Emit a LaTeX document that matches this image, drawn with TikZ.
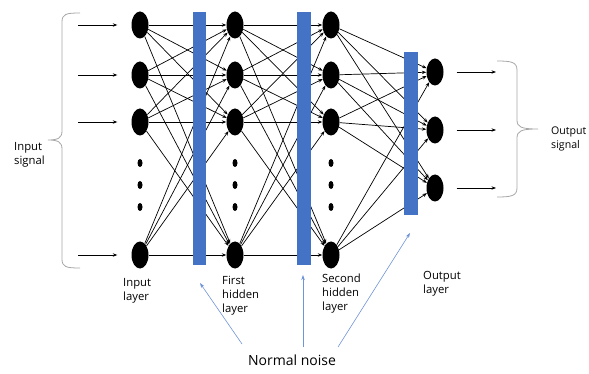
\documentclass[tikz,border=0pt]{standalone}
\usepackage{fontspec}
\setmainfont{Open Sans}
\usetikzlibrary{shapes.geometric,arrows.meta}
\definecolor{barblue}{RGB}{68,114,196}
\definecolor{noiseblue}{RGB}{112,148,217}
\definecolor{bracegray}{RGB}{166,166,166}
\begin{document}
\begin{tikzpicture}[x=1pt,y=-1pt,
 neuron/.style={ellipse,fill=black,minimum width=17pt,minimum height=27pt,inner sep=0pt},
 dotnode/.style={ellipse,fill=black,minimum width=5pt,minimum height=8pt,inner sep=0pt},
 conn/.style={draw=black,line width=0.7pt,-{Stealth[length=4.5pt,width=3.4pt]}},
 bar/.style={fill=barblue,inner sep=0pt},
 lbl/.style={anchor=north west,align=left,inner sep=0pt,font=\fontsize{11.3}{14}\selectfont},
 noisearrow/.style={draw=noiseblue,line width=0.6pt,-{Stealth[length=5pt,width=3.5pt]}},
 bracepath/.style={draw=bracegray,line width=0.8pt}]

\useasboundingbox (0,0) rectangle (589,374);

% neurons
\foreach \n/\y in {1/25,2/75,3/122,4/255} {
  \node[neuron] (i\n) at (140,\y) {};
  \node[neuron] (a\n) at (235,\y) {};
  \node[neuron] (b\n) at (331,\y) {};
}
\foreach \n/\y in {1/72,2/130,3/188} \node[neuron] (o\n) at (435,\y) {};

% vertical dots
\foreach \x/\l in {140/i,235/a,331/b}
  \foreach \k/\y in {1/163,2/185,3/207}
    \node[dotnode] (\l d\k) at (\x,\y) {};

% connections
\foreach \s in {1,...,4}
  \foreach \t in {1,...,4} {
    \draw[conn] (i\s) -- (a\t);
    \draw[conn] (a\s) -- (b\t);
  }
\foreach \s in {1,...,4}
  \foreach \t in {1,2,3}
    \draw[conn] (b\s) -- (o\t);

% input arrows
\foreach \n/\y in {1/25,2/75,3/122,4/255} {
  \coordinate (is\n) at (78,\y);
  \draw[conn,shorten >=14pt] (is\n) -- (i\n);
}
% output arrows
\foreach \n/\y in {1/72,2/130,3/188} {
  \coordinate (oe\n) at (496,\y);
  \draw[conn,shorten <=13pt] (o\n) -- (oe\n);
}

% noise bars
\node[bar,minimum width=13.5pt,minimum height=253pt] (bar1) at (199.5,138.5) {};
\node[bar,minimum width=14pt,minimum height=253pt] (bar2) at (304,138.5) {};
\node[bar,minimum width=14pt,minimum height=163pt] (bar3) at (411,133.5) {};

% braces
\draw[bracepath] (80,13) .. controls (66,13) and (62,14) .. (62,22) -- (62,131)
  .. controls (62,138) and (58,140) .. (48,140)
  .. controls (58,140) and (62,142) .. (62,149) -- (62,259)
  .. controls (62,267) and (66,268) .. (80,268);
\draw[bracepath] (497,61) .. controls (511,61) and (517,62) .. (517,70) -- (517,120)
  .. controls (517,127) and (521,129) .. (538,129)
  .. controls (521,129) and (517,131) .. (517,138) -- (517,188)
  .. controls (517,196) and (511,197) .. (497,197);

% labels
\node[lbl] (lin) at (14,142) {Input\\signal};
\node[lbl,font=\fontsize{10.6}{14}\selectfont] (lout) at (551,127) {Output\\signal};
\node[lbl] (l0) at (123,278) {Input\\layer};
\node[lbl] (l1) at (222,276) {First\\hidden\\layer};
\node[lbl] (l2) at (322,274) {Second\\hidden\\layer};
\node[lbl] (l3) at (423,271) {Output\\layer};

% normal noise
\node[inner sep=0pt,font=\fontsize{14}{17}\selectfont] (noise) at (292,360) {Normal noise};
\coordinate (n1s) at (242,344);
\coordinate (n1e) at (200,283);
\coordinate (n2s) at (303,347);
\coordinate (n2e) at (303,275);
\coordinate (n3s) at (338,347);
\coordinate (n3e) at (410,233);
\draw[noisearrow] (n1s) -- (n1e);
\draw[noisearrow] (n2s) -- (n2e);
\draw[noisearrow] (n3s) -- (n3e);
\end{tikzpicture}
\end{document}
